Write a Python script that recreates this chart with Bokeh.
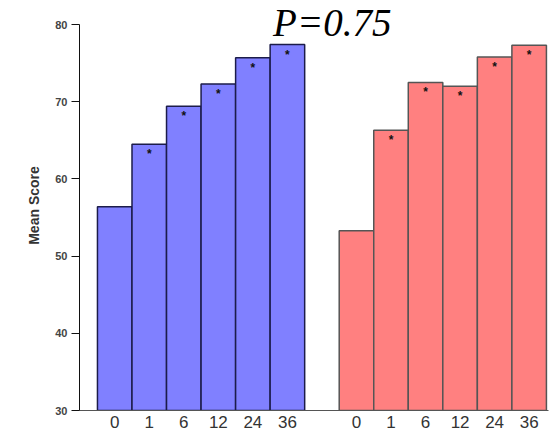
from bokeh.plotting import figure
from bokeh.models import ColumnDataSource, FixedTicker, Label, Range1d
from bokeh.core.properties import value
from bokeh.embed import file_html
from bokeh.resources import INLINE

months = ["0", "1", "6", "12", "24", "36"]
blue_scores = [56.4, 64.5, 69.4, 72.3, 75.7, 77.4]
red_scores = [53.3, 66.3, 72.5, 72.0, 75.8, 77.3]
blue_star = [False, True, True, True, True, True]
red_star = [False, True, True, True, True, True]
y_ticks = [30, 40, 50, 60, 70, 80]
title_text = "P=0.75"
y_label = "Mean Score"

n = len(months)
gap = 1
blue_x = list(range(n))
red_x = [i + n + gap for i in range(n)]

p = figure(width=551, height=437, output_backend="svg", toolbar_location=None,
           x_range=Range1d(-1.02, red_x[-1] + 0.56), y_range=Range1d(30, 83.11),
           min_border_left=79, min_border_right=3, min_border_top=0, min_border_bottom=27)
p.outline_line_color = None
p.xgrid.visible = False
p.ygrid.visible = False
p.background_fill_color = "white"
p.border_fill_color = "white"

blue_src = ColumnDataSource(dict(x=blue_x, top=blue_scores))
red_src = ColumnDataSource(dict(x=red_x, top=red_scores))
p.vbar(x="x", top="top", bottom=30, width=1, source=blue_src,
       fill_color="#8080ff", line_color="#1c1c4a", line_width=1.5)
p.vbar(x="x", top="top", bottom=30, width=1, source=red_src,
       fill_color="#ff8080", line_color="#555555", line_width=1.5)

sx = [x for x, s in zip(blue_x, blue_star) if s] + [x for x, s in zip(red_x, red_star) if s]
sy = [v - 1.3 for v, s in zip(blue_scores, blue_star) if s] + [v - 1.3 for v, s in zip(red_scores, red_star) if s]
star_src = ColumnDataSource(dict(x=sx, y=sy, t=["*"] * len(sx)))
p.text(x="x", y="y", text="t", source=star_src, text_align="center", text_baseline="middle",
       text_font=value("Liberation Sans"), text_font_size="12px", text_color="#111111",
       text_font_style="bold")

# axes
p.yaxis.ticker = FixedTicker(ticks=y_ticks)
p.yaxis.bounds = (30, 80)
p.yaxis.minor_tick_line_color = None
p.yaxis.major_tick_out = 8
p.yaxis.major_tick_in = 0
p.yaxis.major_label_text_font = "Liberation Sans"
p.yaxis.major_label_text_font_size = "11px"
p.yaxis.major_label_text_font_style = "bold"
p.yaxis.major_label_text_color = "#444444"
p.yaxis.major_label_standoff = 4
p.yaxis.axis_line_color = "#111111"
p.yaxis.major_tick_line_color = "#111111"
p.yaxis.axis_label = y_label
p.yaxis.axis_label_text_font = "Liberation Sans"
p.yaxis.axis_label_text_font_size = "14px"
p.yaxis.axis_label_text_font_style = "bold"
p.yaxis.axis_label_text_color = "#333333"
p.yaxis.axis_label_standoff = 10

p.xaxis.ticker = FixedTicker(ticks=blue_x + red_x)
p.xaxis.major_label_overrides = {x: m for x, m in zip(blue_x, months)} | {x: m for x, m in zip(red_x, months)}
p.xaxis.minor_tick_line_color = None
p.xaxis.major_tick_line_color = None
p.xaxis.major_tick_out = 0
p.xaxis.major_tick_in = 0
p.xaxis.axis_line_color = "#555555"
p.xaxis.major_label_standoff = 5
p.xaxis.major_label_text_font = "Liberation Sans"
p.xaxis.major_label_text_font_size = "17px"
p.xaxis.major_label_text_color = "#333333"

p.add_layout(Label(x=6.3, y=80.2, text=title_text, text_align="center", text_baseline="alphabetic",
                   text_font="Liberation Serif", text_font_style="italic", text_font_size="39px",
                   text_color="black"))

open("out.html", "w").write(file_html(p, INLINE))
